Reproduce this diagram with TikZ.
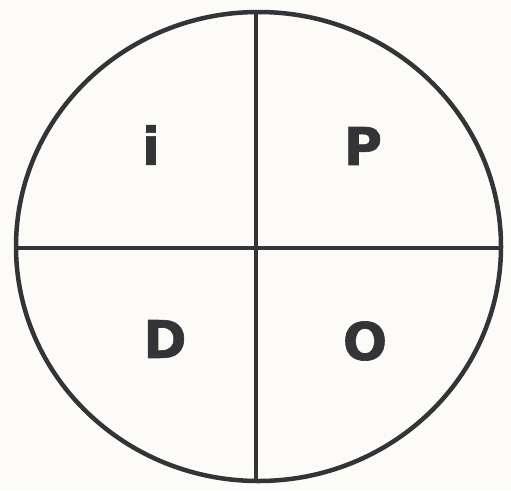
\documentclass[tikz,border=0pt]{standalone}
\usepackage{fontspec}
\newfontfamily\heavyfont[FakeBold=1.2]{DejaVu Sans Bold}
\definecolor{penline}{RGB}{52,52,56}
\definecolor{paper}{RGB}{252,251,248}
\usetikzlibrary{positioning}

\begin{document}
\begin{tikzpicture}[x=1pt, y=-1pt,
  rim/.style={draw=penline, line width=4.5pt},
  letter/.style={font=\heavyfont\fontsize{52}{52}\selectfont, text=penline, inner sep=0pt}
]
  \useasboundingbox (0,0) rectangle (511,490);
  \fill[paper] (0,0) rectangle (511,490);
  % outer circle and cross
  \draw[rim] (258.5,246.5) ellipse [x radius=242.5pt, y radius=234.5pt];
  \coordinate (top) at (256,12);
  \coordinate (bottom) at (256,481);
  \coordinate (left) at (16,248);
  \coordinate (right) at (501,248);
  \draw[rim] (top) -- (bottom);
  \draw[rim] (left) -- (right);
  % quadrant letters
  \node[letter] (i) at (151,145) {i};
  \node[letter] (P) at (363,146) {P};
  \node[letter] (D) at (165,339) {D};
  \node[letter] (O) at (365,341) {O};
\end{tikzpicture}
\end{document}
